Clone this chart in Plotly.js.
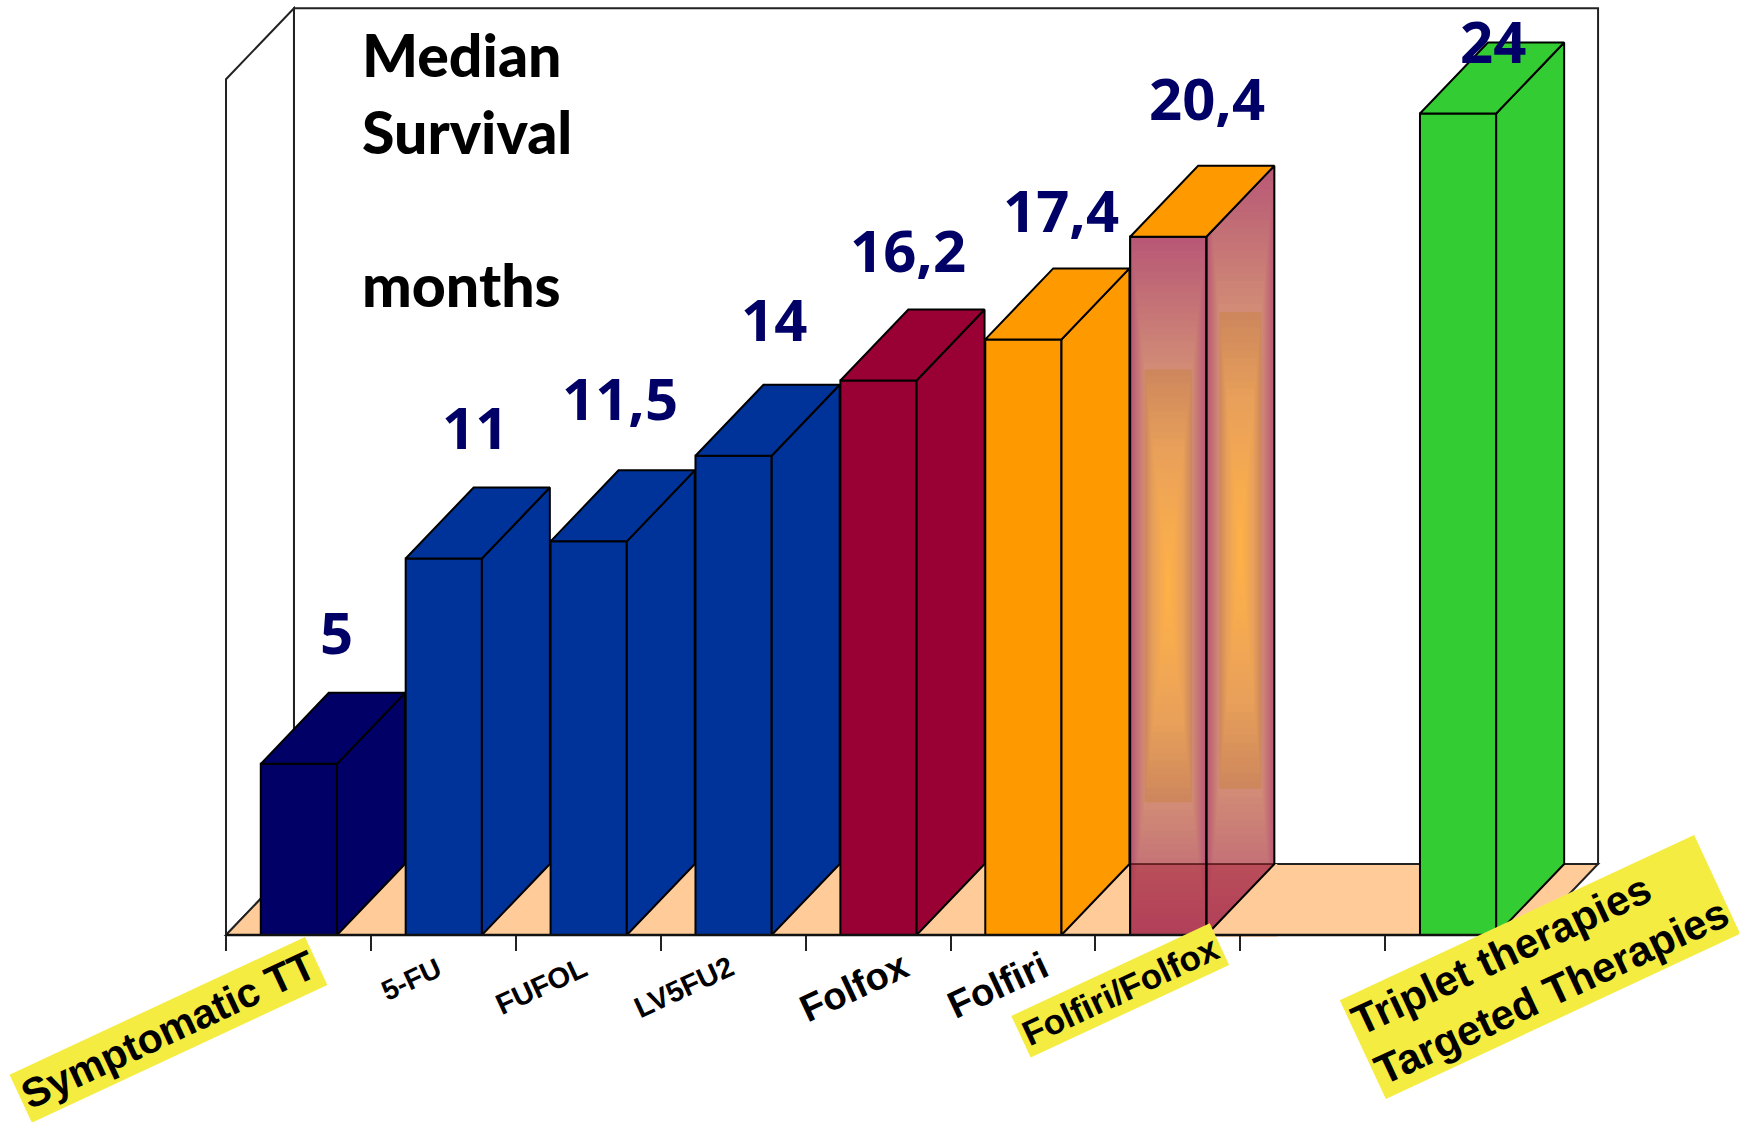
<!DOCTYPE html>
<html>
<head>
<meta charset="utf-8">
<title>Median survival by treatment</title>
<script src="https://cdn.plot.ly/plotly-3.0.1.min.js"></script>
<style>html,body{margin:0;padding:0;background:#fff;overflow:hidden}</style>
</head>
<body>
<div id="chart" style="width:1739px;height:1122px"></div>
<script>
// Median survival, in months, per treatment slot (slot 7 is left empty)
const slots = [0, 1, 2, 3, 4, 5, 6, 8];
const categories = ['Symptomatic TT', '5-FU', 'FUFOL', 'LV5FU2', 'Folfox', 'Folfiri', 'Folfiri/Folfox', 'Triplet therapies<br>Targeted Therapies'];
const months = [5, 11, 11.5, 14, 16.2, 17.4, 20.4, 24];
const valueLabels = ['5', '11', '11,5', '14', '16,2', '17,4', '20,4', '24'];
const frontColors = ['#000066', '#003399', '#003399', '#003399', '#990033', '#FF9900', '#FF9900', '#33CC33'];

// Offsets of the value labels from the top right corner of each bar, in pixels
const valueShiftX = [0, -7, -7, 2, -9, 0, 1, -3];
const valueShiftY = [132, 132, 144, 137, 131, 130, 139, 73];

// Paper pixel placement and look of the category labels
const labelX = [168, 411, 541, 684, 854, 998, 1120, 1540];
const labelY = [1030, 979, 986, 987, 987, 985, 990, 967];
const labelSize = [41, 28, 29, 29, 38, 38, 35, 42];
const labelMarked = [true, false, false, false, false, false, true, true];

// Oblique projection of the depth axis, in axis units
const W = 1739, H = 1122;
const slotPx = 144.9, monthPx = 34.23, originX = 226, originY = 935;
const depthX = 0.469, depthY = 2.074;
const barGap = 0.24, barWidth = 0.526;
const slotCount = 9, wallTop = 25;

// Colour stops of the rectangular gradient on the Folfiri/Folfox bar
const gradT = [0, 0.19, 0.19, 0.3, 0.4, 0.5];
const gradC = [[184, 88, 118], [210, 142, 118], [206, 135, 92], [232, 160, 90], [245, 170, 80], [255, 178, 70]];

function gradColor(t) {
  let i = 0;
  while (i < gradT.length - 2 && t >= gradT[i + 1] - 1e-9) i++;
  const span = gradT[i + 1] - gradT[i] || 1;
  const f = Math.max(0, Math.min(1, (t - gradT[i]) / span));
  const c = gradC[i].map((v, k) => Math.round(v + (gradC[i + 1][k] - v) * f));
  return `rgb(${c.join(',')})`;
}

function poly(xs, ys, fill, lineColor, lineWidth) {
  return {
    type: 'scatter', mode: 'lines', hoverinfo: 'skip', showlegend: false,
    x: xs.concat(xs[0]), y: ys.concat(ys[0]),
    fill: fill ? 'toself' : 'none', fillcolor: fill || undefined,
    line: {color: lineColor || 'rgba(0,0,0,0)', width: lineWidth === undefined ? 2 : lineWidth}
  };
}
function svgPath(xs, ys) {
  return 'M' + xs.map((x, i) => x + ' ' + ys[i]).join(' L') + ' Z';
}

const traces = [{
  type: 'bar', x: slots.map(s => s + barGap + barWidth / 2), y: months,
  width: barWidth, text: categories, hoverinfo: 'text+y', textposition: 'none',
  marker: {color: frontColors, line: {color: '#000', width: 2}}, showlegend: false
}];

slots.forEach((slot, i) => {
  const l = slot + barGap, r = l + barWidth, v = months[i];
  const sideX = [r, r + depthX, r + depthX, r], sideY = [0, depthY, v + depthY, v];
  const topX = [l, r, r + depthX, l + depthX], topY = [v, v, v + depthY, v + depthY];
  const glassy = categories[i] === 'Folfiri/Folfox';
  if (glassy) {
    // Banded rectangular gradient on the front face and on the side face's bounding box
    const bands = 50;
    for (let b = 0; b < bands; b++) {
      const t = 0.5 * b / bands, c = gradColor(t);
      const w1 = barWidth * t, h1 = v * t;
      traces.push(poly([l + w1, r - w1, r - w1, l + w1], [h1, h1, v - h1, v - h1], c));
      const w2 = depthX * t, h2 = (v + depthY) * t;
      traces.push(poly([r + w2, r + depthX - w2, r + depthX - w2, r + w2], [h2, h2, v + depthY - h2, v + depthY - h2], c));
    }
    // Floor corner below the side face
    traces.push(poly([r, r + depthX + 0.02, r + depthX + 0.02, r + depthX], [-0.05, -0.05, depthY, depthY], '#FFCC99'));
    // Floor seen through the glassy bar
    traces.push(poly([l, r, r, l], [0, 0, depthY, depthY], 'rgba(170,30,50,0.42)'));
    traces.push(poly([r, r + depthX, r], [0, depthY, depthY], 'rgba(170,30,50,0.42)'));
    traces.push({type: 'scatter', mode: 'lines', hoverinfo: 'skip', showlegend: false,
      x: [l, r + depthX], y: [depthY, depthY], line: {color: 'rgba(70,10,10,0.7)', width: 2}});
    traces.push(poly([l, r, r, l], [0, 0, v, v], null, '#000', 2));
  }
  traces.push(poly(sideX, sideY, glassy ? null : frontColors[i], '#000', 2));
  traces.push(poly(topX, topY, frontColors[i], '#000', 2));
});

// Front edge of the floor, heavier than the bar outlines
traces.push({type: 'scatter', mode: 'lines', hoverinfo: 'skip', showlegend: false,
  x: [0, slotCount], y: [0, 0], line: {color: '#111', width: 2.5}});

const annotations = [];
slots.forEach((slot, i) => {
  annotations.push({
    xref: 'x', yref: 'y', x: slot + barGap + barWidth, y: months[i],
    xshift: valueShiftX[i], yshift: valueShiftY[i], showarrow: false,
    xanchor: 'center', yanchor: 'middle', text: valueLabels[i],
    font: {family: '"Noto Sans", sans-serif', size: 58, weight: 700, color: '#000066'}
  });
  annotations.push({
    xref: 'paper', yref: 'paper', x: labelX[i] / W, y: 1 - labelY[i] / H,
    xanchor: 'center', yanchor: 'middle', showarrow: false, textangle: -25,
    text: categories[i], align: 'left',
    bgcolor: labelMarked[i] ? '#F5EC41' : 'rgba(0,0,0,0)', borderpad: labelMarked[i] ? 3 : 0,
    font: {family: '"Liberation Sans", Arial, sans-serif', size: labelSize[i], weight: 700, color: '#000'}
  });
});
annotations.push({
  xref: 'paper', yref: 'paper', x: 360 / W, y: 1 - 17 / H, xanchor: 'left', yanchor: 'top',
  align: 'left', showarrow: false, text: 'Median<br>Survival<br> <br>months',
  font: {family: 'Lato, sans-serif', size: 59, weight: 900, color: '#000'}
});

const wallTopY = wallTop + depthY;
const shapes = [
  {type: 'path', layer: 'below', xref: 'x', yref: 'y', fillcolor: '#fff', line: {color: '#222', width: 2},
    path: svgPath([depthX, slotCount + depthX, slotCount + depthX, depthX], [depthY, depthY, wallTopY, wallTopY])},
  {type: 'path', layer: 'below', xref: 'x', yref: 'y', fillcolor: '#fff', line: {color: '#222', width: 2},
    path: svgPath([0, depthX, depthX, 0], [0, depthY, wallTopY, wallTop])},
  {type: 'path', layer: 'below', xref: 'x', yref: 'y', fillcolor: '#FFCC99', line: {color: '#222', width: 2},
    path: svgPath([0, slotCount, slotCount + depthX, depthX], [0, 0, depthY, depthY])}
];

const tickVals = [];
for (let k = 0; k <= slotCount; k++) tickVals.push(k);

Plotly.newPlot('chart', traces, {
  width: W, height: H, margin: {l: 0, r: 0, t: 0, b: 0},
  paper_bgcolor: '#fff', plot_bgcolor: '#fff', showlegend: false, barmode: 'overlay',
  xaxis: {
    range: [-originX / slotPx, (W - originX) / slotPx], showgrid: false, zeroline: false, showline: false,
    tickmode: 'array', tickvals: tickVals, ticktext: tickVals.map(() => ''), ticks: 'outside',
    ticklen: 15, tickwidth: 1.5, tickcolor: '#222', anchor: 'free', position: (H - originY) / H, fixedrange: true
  },
  yaxis: {
    range: [(originY - H) / monthPx, originY / monthPx], visible: false, showgrid: false, zeroline: false, fixedrange: true
  },
  shapes, annotations
}, {displayModeBar: false});
</script>
</body>
</html>
